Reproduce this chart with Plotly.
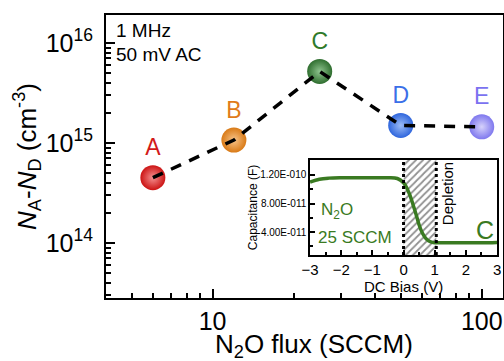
import plotly.graph_objects as go

# ---- main data ----
flux_sccm = [6, 12, 25, 50, 100]
na_nd = [4.5e14, 1.07e15, 5.2e15, 1.5e15, 1.45e15]
sample_labels = ["A", "B", "C", "D", "E"]
ball_colors = ["#cc1414", "#d97a16", "#2f6e2f", "#2f66dd", "#7f78ee"]
ball_centers = ["#f59090", "#f7c48a", "#8fc48f", "#9cbcf5", "#d6d2fb"]
label_colors = ["#d21a1a", "#e07b1a", "#2f7a2a", "#3b6fe8", "#7b72f0"]

# ---- inset data (C-V curve for sample C) ----
bias_v = [-3, -2.7, -2.4, -2, -1.5, -1, -0.5, -0.2, 0, 0.1, 0.2, 0.3, 0.4,
          0.5, 0.6, 0.7, 0.8, 0.9, 1.0, 1.1, 1.5, 2, 2.5, 3]
capacitance_f = [1.10e-10, 1.14e-10, 1.155e-10, 1.16e-10, 1.16e-10, 1.16e-10,
                 1.16e-10, 1.15e-10, 1.09e-10, 1.02e-10, 9.2e-11, 7.9e-11,
                 6.5e-11, 5.0e-11, 3.9e-11, 3.2e-11, 2.8e-11, 2.6e-11, 2.5e-11,
                 2.5e-11, 2.5e-11, 2.5e-11, 2.5e-11, 2.55e-11]
depletion_v = [0, 1.05]
inset_yrange = [0.8e-11, 1.41e-10]

main_yticks = [1e14, 1e15, 1e16]
main_yticktext = ["10<sup>14</sup>", "10<sup>15</sup>", "10<sup>16</sup>"]
main_xticks = [10, 100]
inset_yticks = [4e-11, 8e-11, 1.2e-10]
inset_yticktext = ["4.00E-011", "8.00E-011", "1.20E-010"]

FONT = "Liberation Sans, Arial, sans-serif"
GREEN = "#3a7a22"

fig = go.Figure()

# balls with labels
fig.add_trace(go.Scatter(
    x=flux_sccm, y=na_nd, mode="markers+text",
    text=sample_labels, textposition="top center",
    textfont=dict(size=23, color=label_colors, family=FONT),
    marker=dict(size=25, color=ball_colors,
                gradient=dict(type="radial", color=ball_centers),
                line=dict(width=0)),
    showlegend=False, xaxis="x", yaxis="y"))
# dashed connecting line on top
fig.add_trace(go.Scatter(
    x=flux_sccm, y=na_nd, mode="lines",
    line=dict(color="black", width=3.5, dash="11px,9px"),
    showlegend=False, xaxis="x", yaxis="y"))

# inset: depletion hatched region
fig.add_trace(go.Scatter(
    x=[depletion_v[0], depletion_v[1], depletion_v[1], depletion_v[0], depletion_v[0]],
    y=[inset_yrange[0], inset_yrange[0], inset_yrange[1], inset_yrange[1], inset_yrange[0]],
    mode="lines", fill="toself", line=dict(width=0),
    fillcolor="rgba(255,255,255,0)",
    fillpattern=dict(shape="/", fgcolor="#222222", bgcolor="white", size=5, solidity=0.35),
    showlegend=False, xaxis="x2", yaxis="y2", hoverinfo="skip"))
# inset curve
fig.add_trace(go.Scatter(
    x=bias_v, y=capacitance_f, mode="lines",
    line=dict(color=GREEN, width=3.5, shape="spline"),
    showlegend=False, xaxis="x2", yaxis="y2"))

for v in depletion_v:
    fig.add_shape(type="line", xref="x2", yref="y2 domain", x0=v, x1=v, y0=0, y1=1,
                  line=dict(color="black", width=3, dash="3px,3px"))

L, R, T, B = 106, 1, 15, 63
W, H = 504, 361

fig.update_layout(
    width=W, height=H,
    margin=dict(l=L, r=R, t=T, b=B, autoexpand=False),
    paper_bgcolor="white", plot_bgcolor="white",
    font=dict(family=FONT, color="black"),
    xaxis=dict(
        type="log", range=[0.604, 2.079], domain=[0, 1], automargin=False,
        tickvals=main_xticks, ticktext=["10", "100"],
        ticks="inside", ticklen=9, tickwidth=2, tickcolor="black",
        minor=dict(ticks="inside", ticklen=5, tickwidth=2, tickcolor="black",
                   tickvals=[4, 5, 6, 7, 8, 9, 20, 30, 40, 50, 60, 70, 80, 90]),
        showline=True, linecolor="black", linewidth=2, mirror=True,
        showgrid=False, zeroline=False,
        tickfont=dict(size=25), ticklabelstandoff=0,
    ),
    yaxis=dict(
        type="log", range=[13.45, 16.28], domain=[0, 1], automargin=False,
        tickvals=main_yticks, ticktext=main_yticktext,
        ticks="inside", ticklen=9, tickwidth=2, tickcolor="black",
        minor=dict(ticks="inside", ticklen=5, tickwidth=2, tickcolor="black",
                   tickvals=[m * 10 ** e for e in (13, 14, 15) for m in range(2, 10)]),
        showline=True, linecolor="black", linewidth=2, mirror=True,
        showgrid=False, zeroline=False,
        tickfont=dict(size=25), ticklabelstandoff=6,
        title=dict(text="<i>N</i><sub>A</sub>-<i>N</i><sub>D</sub> (cm<sup>-3</sup>)",
                   font=dict(size=26), standoff=2),
    ),
    xaxis2=dict(
        anchor="y2", domain=[0.514, 0.985], range=[-3, 3], automargin=False,
        tickvals=[-3, -2, -1, 0, 1, 2, 3],
        ticks="inside", ticklen=5, tickwidth=1.5, tickcolor="black",
        minor=dict(ticks="inside", ticklen=3, tickwidth=1.5, tickcolor="black", dtick=0.5),
        showline=True, linecolor="black", linewidth=1.5, mirror=True,
        showgrid=False, zeroline=False,
        tickfont=dict(size=15),
        title=dict(text="DC Bias (V)", font=dict(size=15), standoff=0),
    ),
    yaxis2=dict(
        anchor="x2", domain=[0.152, 0.488], range=inset_yrange, automargin=False,
        tickvals=inset_yticks, ticktext=inset_yticktext,
        ticks="inside", ticklen=5, tickwidth=1.5, tickcolor="black",
        minor=dict(ticks="inside", ticklen=3, tickwidth=1.5, tickcolor="black",
                   tickvals=[2e-11, 6e-11, 1e-10, 1.4e-10]),
        showline=True, linecolor="black", linewidth=1.5, mirror=True,
        showgrid=False, zeroline=False,
        tickfont=dict(size=10),
        title=dict(text="Capacitance (F)", font=dict(size=12), standoff=0),
    ),
    showlegend=False,
)

# white background under inset
fig.add_shape(type="rect", xref="x2 domain", yref="y2 domain", x0=0, x1=1, y0=0, y1=1,
              fillcolor="white", line=dict(width=0), layer="below")

# x-axis title as annotation (precise placement)
fig.add_annotation(xref="paper", yref="paper", x=0.525, y=-0.168, yanchor="middle",
                   text="N<sub>2</sub>O flux (SCCM)", showarrow=False, font=dict(size=26))

# measurement condition text
fig.add_annotation(xref="paper", yref="paper", x=0.02, y=0.99, xanchor="left", yanchor="top",
                   text="1 MHz", showarrow=False, font=dict(size=19))
fig.add_annotation(xref="paper", yref="paper", x=0.02, y=0.905, xanchor="left", yanchor="top",
                   text="50 mV AC", showarrow=False, font=dict(size=19))

# inset annotations
fig.add_annotation(xref="x2", yref="y2", x=-2.15, y=7.0e-11, text="N<sub>2</sub>O",
                   showarrow=False, font=dict(size=17, color=GREEN))
fig.add_annotation(xref="x2", yref="y2", x=-1.55, y=3.2e-11, text="25 SCCM",
                   showarrow=False, font=dict(size=17, color=GREEN))
fig.add_annotation(xref="x2", yref="y2", x=2.6, y=4.3e-11, text="C",
                   showarrow=False, font=dict(size=25, color=GREEN))
fig.add_annotation(xref="x2", yref="y2 domain", x=1.42, y=1.0, yanchor="top", text="Depletion",
                   textangle=-90, showarrow=False, font=dict(size=15, color="black"))

fig.write_html("out.html", config={"displayModeBar": False},
               post_script="document.body.style.margin='0px';")
